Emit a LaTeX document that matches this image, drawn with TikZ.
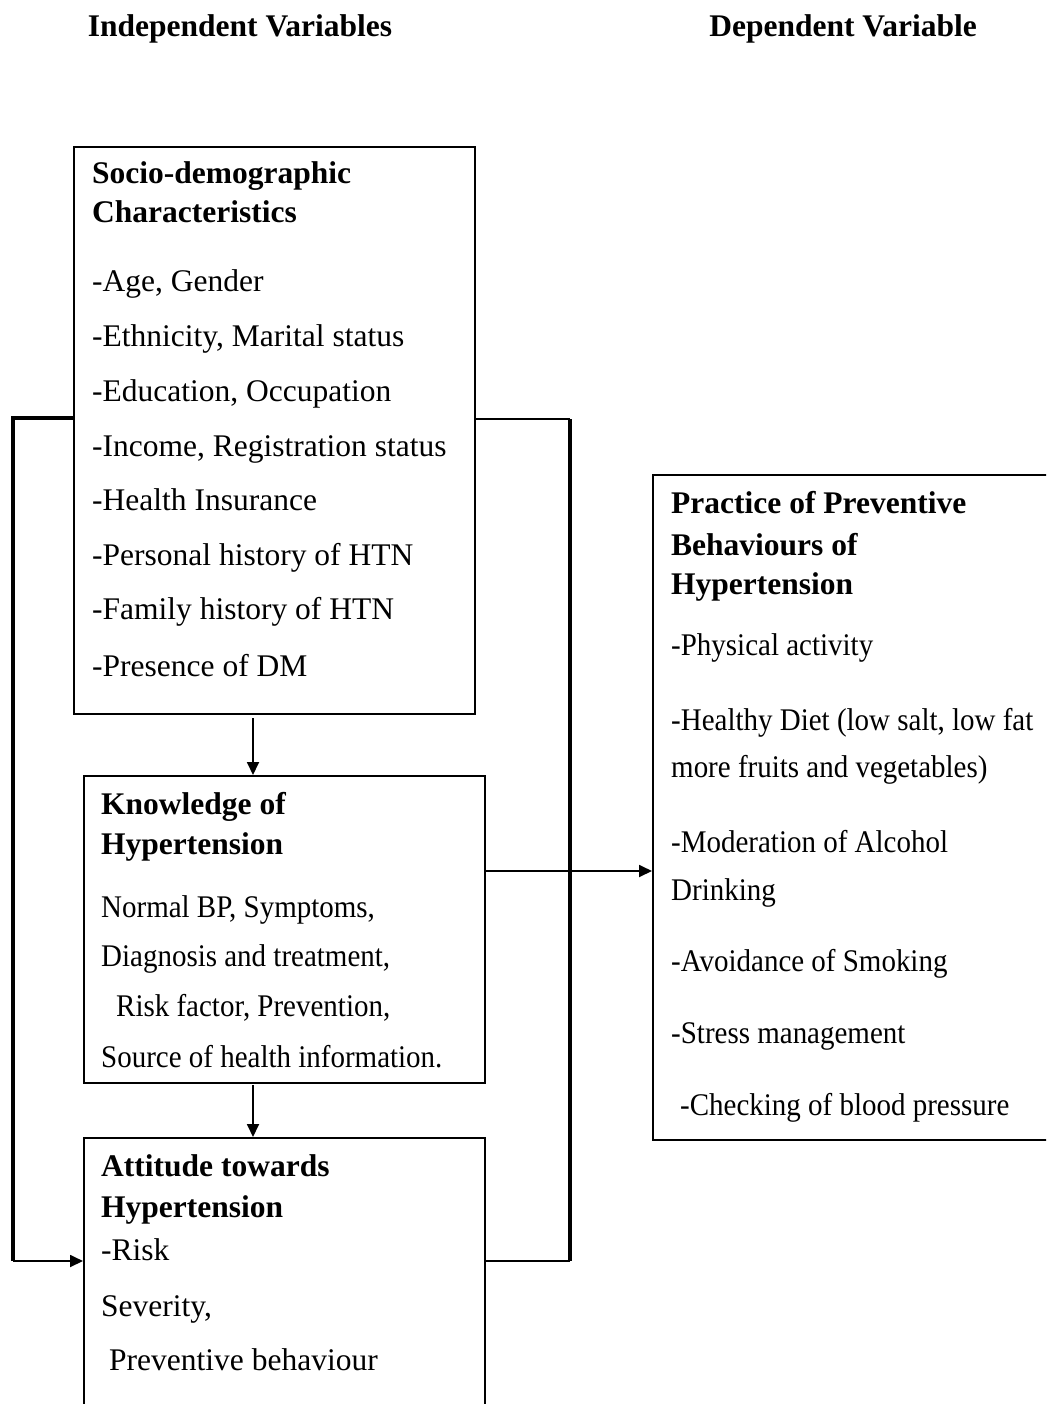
\documentclass[tikz,border=0pt]{standalone}
\usepackage{fontspec}
\setmainfont{Liberation Serif}
\newfontfamily\condserif[FakeStretch=0.92]{Liberation Serif}
\usetikzlibrary{arrows.meta}
\begin{document}
\begin{tikzpicture}[x=1pt,y=-1pt,
  box/.style={draw,line width=1.6pt,inner sep=0pt,anchor=north west},
  txt/.style={anchor=base west,inner sep=0pt,font=\fontsize{31.5}{36}\selectfont},
  ctxt/.style={txt,font=\fontsize{31.5}{36}\selectfont\condserif},
  btxt/.style={txt,font=\fontsize{31.5}{36}\selectfont\bfseries},
  thickline/.style={line width=3.6pt},
  thinline/.style={line width=1.8pt},
  arr/.style={line width=1.8pt,-{Triangle[length=13pt,width=12pt]}}]
\useasboundingbox (0,0) rectangle (1046,1404);
\clip (0,0) rectangle (1046,1404);
% headers
\node[btxt,anchor=base] (hind) at (240,37) {Independent Variables};
\node[btxt,anchor=base] (hdep) at (843,37) {Dependent Variable};
% boxes
\node[box,minimum width=401pt,minimum height=567pt] (sd) at (73,146) {};
\node[box,minimum width=401pt,minimum height=307pt] (kn) at (83,775) {};
\node[box,minimum width=401pt,minimum height=300pt] (at) at (83,1137) {};
\node[box,minimum width=420pt,minimum height=665pt] (pr) at (652,474) {};
% socio-demographic text
\node[btxt] (sd1) at (92,184) {Socio-demographic};
\node[btxt] (sd2) at (92,223) {Characteristics};
\node[txt] (sd3) at (92,291) {-Age, Gender};
\node[txt] (sd4) at (92,346) {-Ethnicity, Marital status};
\node[txt] (sd5) at (92,401) {-Education, Occupation};
\node[txt] (sd6) at (92,456) {-Income, Registration status};
\node[txt] (sd7) at (92,510) {-Health Insurance};
\node[txt] (sd8) at (92,565) {-Personal history of HTN};
\node[txt] (sd9) at (92,619) {-Family history of HTN};
\node[txt] (sd10) at (92,676) {-Presence of DM};
% knowledge text
\node[btxt] (kn1) at (101,814) {Knowledge of};
\node[btxt] (kn2) at (101,854) {Hypertension};
\node[ctxt] (kn3) at (101,917) {Normal BP, Symptoms,};
\node[ctxt] (kn4) at (101,966) {Diagnosis and treatment,};
\node[ctxt] (kn5) at (116,1016) {Risk factor, Prevention,};
\node[ctxt] (kn6) at (101,1067) {Source of health information.};
% attitude text
\node[btxt] (at1) at (101,1176) {Attitude towards};
\node[btxt] (at2) at (101,1217) {Hypertension};
\node[txt] (at3) at (101,1260) {-Risk};
\node[txt] (at4) at (101,1316) {Severity,};
\node[txt] (at5) at (109,1370) {Preventive behaviour};
% practice text
\node[btxt] (pr1) at (671,513) {Practice of Preventive};
\node[btxt] (pr2) at (671,555) {Behaviours of};
\node[btxt] (pr3) at (671,594) {Hypertension};
\node[ctxt] (pr4) at (671,655) {-Physical activity};
\node[ctxt] (pr5) at (671,730) {-Healthy Diet (low salt, low fat};
\node[ctxt] (pr6) at (671,777) {more fruits and vegetables)};
\node[ctxt] (pr7) at (671,852) {-Moderation of Alcohol};
\node[ctxt] (pr8) at (671,900) {Drinking};
\node[ctxt] (pr9) at (671,971) {-Avoidance of Smoking};
\node[ctxt] (pr10) at (671,1043) {-Stress management};
\node[ctxt] (pr11) at (680,1115) {-Checking of blood pressure};
% connectors
\coordinate (lt) at (13,418);
\coordinate (lb) at (13,1261);
\coordinate (rt) at (570,419);
\coordinate (rb) at (570,1261);
\coordinate (d1s) at (253,718);
\coordinate (d2s) at (253,1085);
\draw[thickline] (sd.west |- lt) -- (lt) -- (lb);
\draw[arr] (lb) -- (at.west |- lb);
\draw[thinline] (sd.east |- rt) -- (rt);
\draw[thickline] (rt) -- (rb);
\draw[thinline] (at.east |- rb) -- (rb);
\draw[arr] (kn.east |- 0,871) -- (pr.west |- 0,871);
\draw[arr] (d1s) -- (kn.north -| d1s);
\draw[arr] (d2s) -- (at.north -| d2s);
\end{tikzpicture}
\end{document}
